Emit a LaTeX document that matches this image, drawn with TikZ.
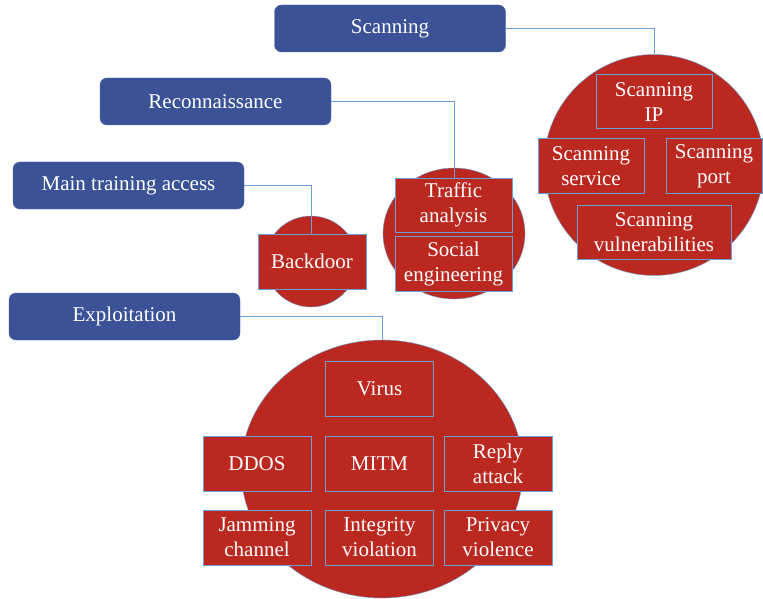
\documentclass[tikz,border=0pt]{standalone}
\usepackage{fontspec}
\setmainfont{Liberation Serif}
\usetikzlibrary{shapes.geometric,positioning}
\definecolor{phaseblue}{RGB}{59,83,150}
\definecolor{phaseedge}{RGB}{70,100,170}
\definecolor{itemred}{RGB}{186,40,32}
\definecolor{lineblue}{RGB}{106,160,216}
\tikzset{
    phase/.style={rectangle,rounded corners=7pt,fill=phaseblue,draw=phaseedge,text=white,
        inner sep=0pt,minimum width=231pt,minimum height=47pt},
    cluster/.style={ellipse,fill=itemred,draw=lineblue,inner sep=0pt},
    item/.style={rectangle,fill=itemred,draw=lineblue,line width=1pt,text=white,align=center,
        inner sep=0pt,minimum width=108pt,minimum height=55pt},
    link/.style={draw=lineblue,line width=0.8pt},
}
\tikzstyle{every node}=[font=\fontsize{21}{25}\selectfont]

\begin{document}
\begin{tikzpicture}[x=1pt,y=-1pt]
        \useasboundingbox (0,0) rectangle (763,599);
        % phases
        \node[phase] (scan) at (390,28.5) {Scanning};
        \node[phase] (recon) at (215.5,101.5) {Reconnaissance};
        \node[phase] (access) at (128.5,185.5) {Main training access};
        \node[phase] (exploit) at (124.5,316.5) {Exploitation};

        % clusters
        \node[cluster,minimum width=220pt,minimum height=221pt] (scanC) at (654,165) {};
        \node[cluster,minimum width=142pt,minimum height=131pt] (reconC) at (454,233.5) {};
        \node[cluster,minimum width=92pt,minimum height=91pt] (accessC) at (311,261.5) {};
        \node[cluster,minimum width=282pt,minimum height=258pt] (exploitC) at (382,469) {};

        % scanning
        \node[item,minimum width=116pt,minimum height=54pt] (ip) at (654,102) {Scanning\\IP};
        \node[item,minimum width=106pt,minimum height=54pt] (service) at (591,166) {Scanning\\service};
        \node[item,minimum width=96pt,minimum height=54pt] (port) at (714,166) {Scanning\\port};
        \node[item,minimum width=154pt,minimum height=54pt] (vuln) at (654,232) {Scanning\\vulnerabilities};

        % reconnaissance
        \node[item,minimum width=117pt,minimum height=54pt] (traffic) at (453.5,205) {Traffic\\analysis};
        \node[item,minimum width=117pt,minimum height=55pt] (social) at (453.5,263.5) {Social\\engineering};

        % access
        \node[item,minimum height=55pt] (backdoor) at (312,261.5) {Backdoor};

        % exploitation
        \node[item] (virus) at (379.5,388.5) {Virus};
        \node[item] (ddos) at (257,463.5) {DDOS};
        \node[item] (mitm) at (379.5,463.5) {MITM};
        \node[item] (reply) at (498,463.5) {Reply\\attack};
        \node[item] (jam) at (257,537.5) {Jamming\\channel};
        \node[item] (integ) at (379.5,537.5) {Integrity\\violation};
        \node[item] (privacy) at (498,537.5) {Privacy\\violence};

        % links
        \draw[link] (scan.east) -| (scanC.north);
        \draw[link] (recon.east) -| (traffic.north -| reconC.north);
        \draw[link] (access.east) -| (backdoor.north -| accessC.north);
        \draw[link] (exploit.east) -| (exploitC.north);
    \end{tikzpicture}
\end{document}
